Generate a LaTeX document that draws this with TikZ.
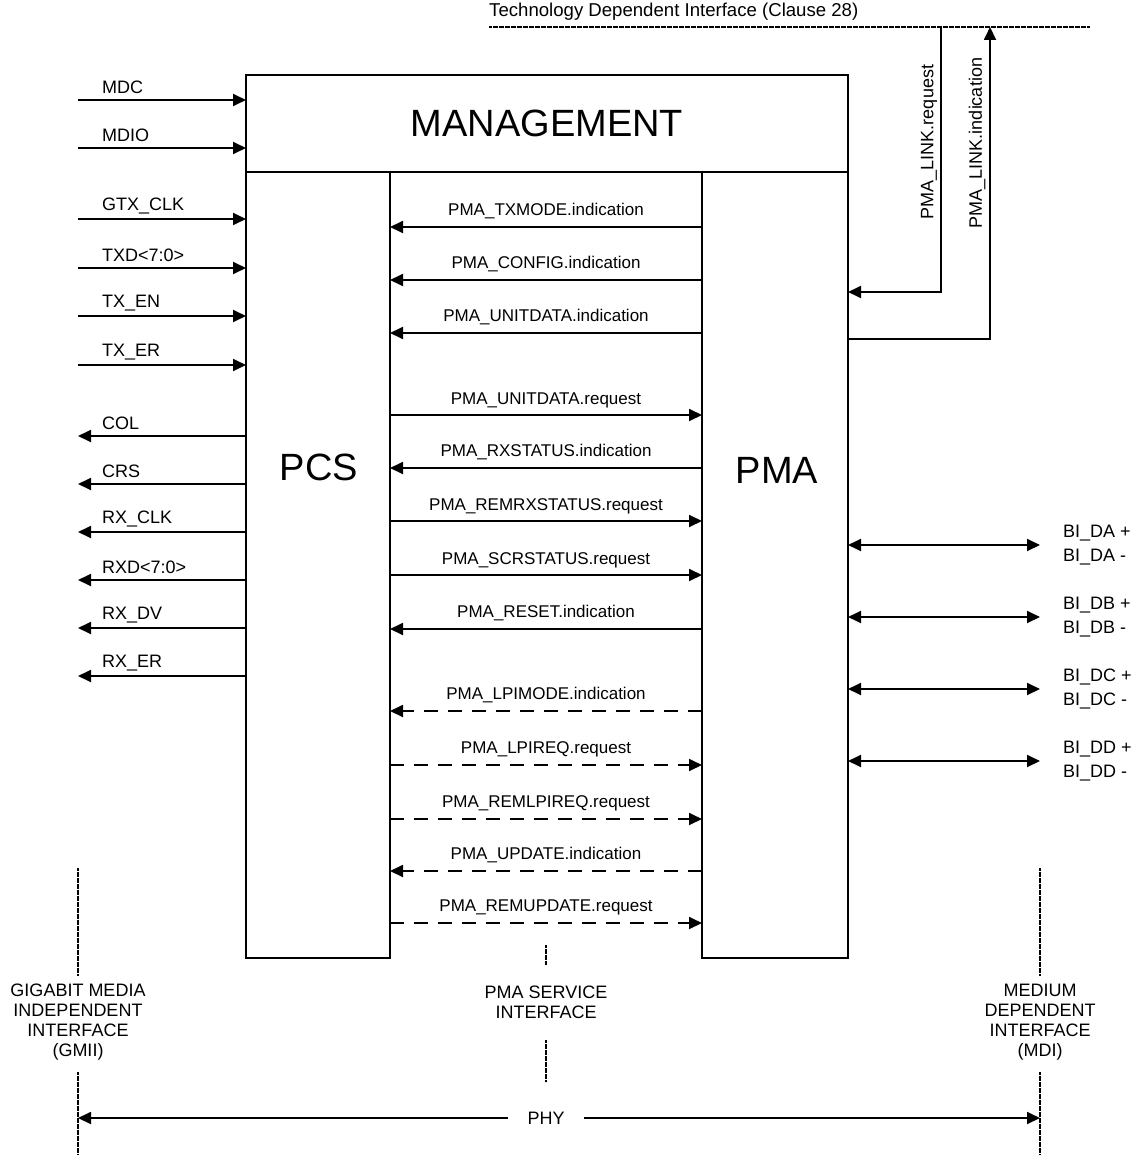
\documentclass[tikz,border=0pt]{standalone}
\usepackage{fontspec}
\setmainfont{Liberation Sans}
\usetikzlibrary{arrows.meta}
\begin{document}
\begin{tikzpicture}[x=1pt,y=-1pt,
  lbl/.style={font=\fontsize{18}{20}\selectfont, inner sep=0pt},
  tlbl/.style={font=\fontsize{18.6}{20}\selectfont, inner sep=0pt},
  mlbl/.style={font=\fontsize{17}{20}\selectfont, inner sep=0pt},
  big/.style={font=\fontsize{38}{44}\selectfont, inner sep=0pt},
  box/.style={draw, line width=1.8pt, inner sep=0pt, outer sep=0pt},
  sig/.style={line width=1.8pt, -{Triangle[length=13pt,width=12pt]}},
  dsig/.style={sig, dash pattern=on 14pt off 10pt},
  bsig/.style={line width=1.8pt, {Triangle[length=13pt,width=12pt]}-{Triangle[length=13pt,width=12pt]}},
  iface/.style={line width=1.2pt, dash pattern=on 0.8pt off 0.4pt},
  iflbl/.style={font=\fontsize{18}{20}\selectfont, align=center, inner sep=0pt}
]
\useasboundingbox (0,0) rectangle (1138,1155);

% boxes
\node[box, minimum width=602pt, minimum height=97pt, anchor=north west, big] (mgmt) at (246,75) {MANAGEMENT};
\node[box, minimum width=144pt, minimum height=786pt, anchor=north west] (pcs) at (246,172) {};
\node[box, minimum width=146pt, minimum height=786pt, anchor=north west] (pma) at (702,172) {};
\node[big] (pcstxt) at (319,467) {PCS};
\node[big] (pmatxt) at (777,470) {PMA};

% technology dependent interface
\node[tlbl, anchor=west] (tdil) at (489,12) {Technology Dependent Interface (Clause 28)};
\coordinate (tdia) at (489,27);
\coordinate (tdib) at (1090,27);
\draw[iface] (tdia) -- (tdib);

% GMII inputs
\foreach \n/\y/\t in {a/100/MDC, b/148/MDIO, c/219/GTX\_CLK, d/268/TXD<7:0>, e/316/TX\_EN, f/365/TX\_ER}{
  \coordinate (in\n) at (78,\y);
  \draw[sig] (in\n) -- (pcs.west |- in\n);
  \node[lbl, anchor=west] (inl\n) at (102,\y-13) {\t};
}
% GMII outputs
\foreach \n/\y/\t in {a/436/COL, b/484/CRS, c/532/RX\_CLK, d/580/RXD<7:0>, e/628/RX\_DV, f/676/RX\_ER}{
  \coordinate (out\n) at (78,\y);
  \draw[sig] (pcs.west |- out\n) -- (out\n);
  \node[lbl, anchor=west] (outl\n) at (102,\y-13) {\t};
}

% PMA service interface primitives: to PCS
\foreach \n/\y/\t in {a/227/PMA\_TXMODE.indication, b/280/PMA\_CONFIG.indication, c/333/PMA\_UNITDATA.indication, e/468/PMA\_RXSTATUS.indication, h/629/PMA\_RESET.indication}{
  \coordinate (m\n) at (546,\y);
  \draw[sig] (pma.west |- m\n) -- (pcs.east |- m\n);
  \node[mlbl] (ml\n) at (546,\y-16) {\t};
}
% to PMA
\foreach \n/\y/\t in {d/415/PMA\_UNITDATA.request, f/521/PMA\_REMRXSTATUS.request, g/575/PMA\_SCRSTATUS.request}{
  \coordinate (m\n) at (546,\y);
  \draw[sig] (pcs.east |- m\n) -- (pma.west |- m\n);
  \node[mlbl] (ml\n) at (546,\y-15) {\t};
}
% dashed, to PCS
\foreach \n/\y/\t in {i/711/PMA\_LPIMODE.indication, l/871/PMA\_UPDATE.indication}{
  \coordinate (m\n) at (546,\y);
  \draw[dsig] (pma.west |- m\n) -- (pcs.east |- m\n);
  \node[mlbl] (ml\n) at (546,\y-16) {\t};
}
% dashed, to PMA
\foreach \n/\y/\t in {j/765/PMA\_LPIREQ.request, k/819/PMA\_REMLPIREQ.request, m/923/PMA\_REMUPDATE.request}{
  \coordinate (m\n) at (546,\y);
  \draw[dsig] (pcs.east |- m\n) -- (pma.west |- m\n);
  \node[mlbl] (ml\n) at (546,\y-16) {\t};
}

% PMA_LINK
\coordinate (lrt) at (941,27);
\coordinate (lrb) at (941,292);
\draw[sig] (lrt) -- (lrb) -- (pma.east |- lrb);
\node[lbl, rotate=90] (lrl) at (929,142) {PMA\_LINK.request};
\coordinate (lit) at (990,27);
\coordinate (lib) at (990,339);
\draw[sig] (pma.east |- lib) -- (lib) -- (lit);
\node[lbl, rotate=90] (lil) at (977,143) {PMA\_LINK.indication};

% MDI
\foreach \n/\y/\t in {A/545/DA, B/617/DB, C/689/DC, D/761/DD}{
  \coordinate (bi\n) at (1040,\y);
  \draw[bsig] (pma.east |- bi\n) -- (bi\n);
  \node[lbl, anchor=west] (bip\n) at (1063,\y-12) {BI\_\t\ +};
  \node[lbl, anchor=west] (bim\n) at (1063,\y+12) {BI\_\t\ -};
}

% interface markers
\node[iflbl] (gmii) at (78,1022) {GIGABIT MEDIA\\INDEPENDENT\\INTERFACE\\(GMII)};
\node[iflbl] (psi) at (546,1002) {PMA SERVICE\\INTERFACE};
\node[iflbl] (mdi) at (1040,1022) {MEDIUM\\DEPENDENT\\INTERFACE\\(MDI)};
\coordinate (g1) at (78,868); \coordinate (g2) at (78,975);
\coordinate (g3) at (78,1072); \coordinate (g4) at (78,1155);
\draw[iface] (g1) -- (g2); \draw[iface] (g3) -- (g4);
\coordinate (p1) at (546,945); \coordinate (p2) at (546,965);
\coordinate (p3) at (546,1040); \coordinate (p4) at (546,1082);
\draw[iface] (p1) -- (p2); \draw[iface] (p3) -- (p4);
\coordinate (d1) at (1040,868); \coordinate (d2) at (1040,975);
\coordinate (d3) at (1040,1072); \coordinate (d4) at (1040,1155);
\draw[iface] (d1) -- (d2); \draw[iface] (d3) -- (d4);

% PHY
\node[lbl, inner xsep=19pt] (phy) at (546,1118) {PHY};
\coordinate (phyl) at (78,1118);
\coordinate (phyr) at (1040,1118);
\draw[sig] (phy.west) -- (phyl);
\draw[sig] (phy.east) -- (phyr);
\end{tikzpicture}
\end{document}
